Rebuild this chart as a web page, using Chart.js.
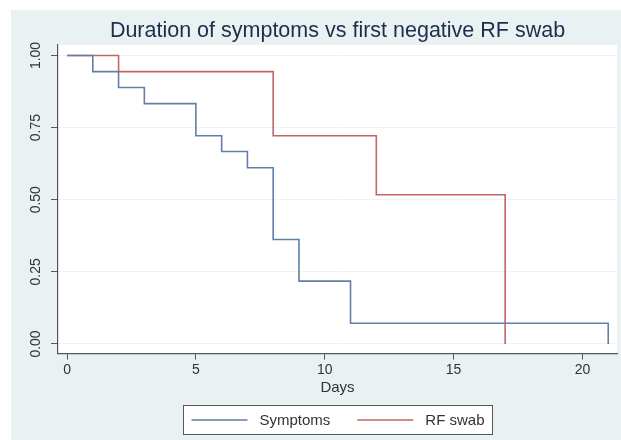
<!DOCTYPE html>
<html>
<head>
<meta charset="utf-8">
<script src="https://cdn.jsdelivr.net/npm/chart.js@4.4.1/dist/chart.umd.min.js"></script>
<style>
  body { margin: 0; background: #ffffff; }
  canvas { display: block; }
</style>
</head>
<body>
<canvas id="kmChart" width="621" height="440"></canvas>
<script>
// data (Kaplan-Meier style steps)
const symptomDays = [0, 1, 2, 3, 5, 6, 7, 8, 9, 11, 21];
const symptomSurv = [1.0, 0.944, 0.889, 0.833, 0.722, 0.667, 0.611, 0.362, 0.218, 0.072, 0];
const swabDays = [0, 2, 8, 12, 17];
const swabSurv = [1.0, 0.944, 0.722, 0.517, 0];
const xTicks = [0, 5, 10, 15, 20];
const yTicks = [0, 0.25, 0.5, 0.75, 1.0];
const yTickLabels = ['0.00', '0.25', '0.50', '0.75', '1.00'];

const toPoints = (xs, ys) => xs.map((x, i) => ({x: x, y: ys[i]}));

const FONT = "'Liberation Sans', Arial, Helvetica, sans-serif";

// background: white margin, bluish graph region, white plot region
const bgPlugin = {
  id: 'bg',
  beforeDraw(chart) {
    const c = chart.ctx, a = chart.chartArea;
    c.save();
    c.fillStyle = '#ffffff';
    c.fillRect(0, 0, chart.width, chart.height);
    c.fillStyle = '#e9f1f3';
    c.fillRect(11, 10, chart.width - 11, chart.height - 10);
    c.fillStyle = '#ffffff';
    c.fillRect(a.left, a.top, a.right - a.left, a.bottom - a.top);
    c.restore();
  }
};

// rotated y labels + boxed legend
const extrasPlugin = {
  id: 'extras',
  afterDraw(chart) {
    const c = chart.ctx;
    const ys = chart.scales.y;
    c.save();
    c.font = '14px ' + FONT;
    c.fillStyle = '#333333';
    c.textAlign = 'center';
    c.textBaseline = 'middle';
    yTicks.forEach((v, i) => {
      c.save();
      c.translate(36, ys.getPixelForValue(v));
      c.rotate(-Math.PI / 2);
      c.fillText(yTickLabels[i], 0, 0);
      c.restore();
    });

    // legend
    const a = chart.chartArea;
    const ds = chart.data.datasets;
    c.font = '15px ' + FONT;
    const pad = 8, lineLen = 56, gap = 12, between = 27;
    const widths = ds.map(d => c.measureText(d.label).width);
    let total = pad * 2 + between * (ds.length - 1);
    widths.forEach(w => { total += lineLen + gap + w; });
    const boxL = Math.round((a.left + a.right) / 2 - total / 2) + 0.5;
    const boxT = 405.5, boxH = 29;
    c.fillStyle = '#ffffff';
    c.fillRect(boxL, boxT, total, boxH);
    c.strokeStyle = '#555555';
    c.lineWidth = 1;
    c.strokeRect(boxL, boxT, total, boxH);
    let x = boxL + pad;
    const midY = boxT + boxH / 2;
    ds.forEach((d, i) => {
      c.strokeStyle = d.borderColor;
      c.lineWidth = 1.6;
      c.beginPath();
      c.moveTo(x, midY);
      c.lineTo(x + lineLen, midY);
      c.stroke();
      x += lineLen + gap;
      c.fillStyle = '#333333';
      c.textAlign = 'left';
      c.fillText(d.label, x, midY + 1);
      x += widths[i] + between;
    });
    c.restore();
  }
};

const ctx = document.getElementById('kmChart').getContext('2d');
new Chart(ctx, {
  type: 'line',
  data: {
    datasets: [{
      label: 'Symptoms',
      data: toPoints(symptomDays, symptomSurv),
      borderColor: '#5f7fa8',
      borderWidth: 1.6,
      pointRadius: 0,
      stepped: 'before',
      fill: false
    }, {
      label: 'RF swab',
      data: toPoints(swabDays, swabSurv),
      borderColor: '#c46464',
      borderWidth: 1.6,
      pointRadius: 0,
      stepped: 'before',
      fill: false
    }]
  },
  options: {
    responsive: false,
    animation: false,
    layout: { padding: { top: 0, right: 4, bottom: 40, left: 0 } },
    plugins: {
      legend: { display: false },
      tooltip: { enabled: false },
      title: {
        display: true,
        fullSize: false,
        text: 'Duration of symptoms vs first negative RF swab',
        color: '#1f2d4d',
        font: { family: FONT, size: 21.5, weight: 'normal' },
        padding: { top: 18, bottom: 1 }
      }
    },
    scales: {
      x: {
        type: 'linear',
        min: -0.35,
        max: 21.34,
        afterBuildTicks: s => { s.ticks = xTicks.map(v => ({value: v})); },
        afterFit: s => { s.height = 46.5; },
        grid: { drawOnChartArea: false, drawTicks: true, tickLength: 6, tickColor: '#555555' },
        border: { display: true, color: '#555555', width: 1.2 },
        ticks: { color: '#333333', padding: 2, font: { family: FONT, size: 14 } },
        title: {
          display: true,
          text: 'Days',
          color: '#333333',
          font: { family: FONT, size: 15 },
          padding: { top: 0, bottom: 3 }
        }
      },
      y: {
        min: -0.033,
        max: 1.037,
        afterBuildTicks: s => { s.ticks = yTicks.map(v => ({value: v})); },
        afterFit: s => { s.width = 58; },
        grid: { color: '#edf3f5', lineWidth: 1, drawTicks: true, tickLength: 7, tickColor: '#555555' },
        border: { display: true, color: '#555555', width: 1.2 },
        ticks: { display: false }
      }
    }
  },
  plugins: [bgPlugin, extrasPlugin]
});
</script>
</body>
</html>
